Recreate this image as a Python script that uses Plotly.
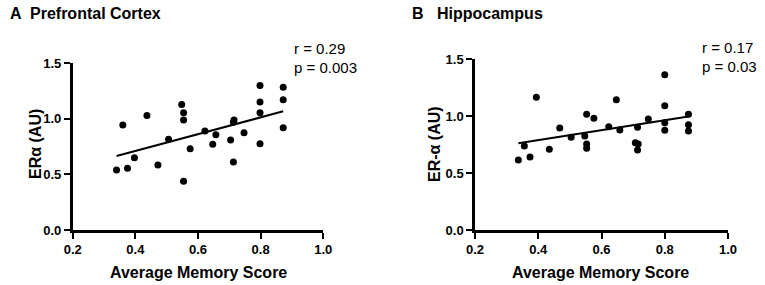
import plotly.graph_objects as go

# Panel A: Prefrontal Cortex
a_x = [0.340, 0.360, 0.375, 0.397, 0.437, 0.472, 0.506, 0.548, 0.554, 0.554, 0.554,
       0.575, 0.622, 0.647, 0.657, 0.704, 0.713, 0.715, 0.713, 0.747,
       0.798, 0.798, 0.798, 0.798, 0.872, 0.872, 0.872]
a_y = [0.54, 0.945, 0.555, 0.65, 1.03, 0.585, 0.816, 1.13, 1.056, 0.99, 0.438,
       0.732, 0.89, 0.771, 0.858, 0.81, 0.97, 0.99, 0.612, 0.876,
       1.30, 1.152, 1.056, 0.777, 1.284, 1.173, 0.921]
a_fit_x = [0.34, 0.872]
a_fit_y = [0.666, 1.068]

# Panel B: Hippocampus
b_x = [0.337, 0.356, 0.374, 0.394, 0.435, 0.468, 0.504, 0.547, 0.553, 0.553, 0.553,
       0.576, 0.623, 0.647, 0.658, 0.707, 0.716, 0.714, 0.714, 0.748,
       0.800, 0.800, 0.800, 0.800, 0.875, 0.875, 0.875]
b_y = [0.615, 0.738, 0.641, 1.166, 0.709, 0.896, 0.815, 0.826, 1.017, 0.756, 0.718,
       0.981, 0.908, 1.145, 0.879, 0.767, 0.755, 0.902, 0.703, 0.975,
       1.365, 1.092, 0.943, 0.876, 1.017, 0.925, 0.870]
b_fit_x = [0.337, 0.875]
b_fit_y = [0.762, 0.998]

x_ticks = [0.2, 0.4, 0.6, 0.8, 1.0]
x_labels = ["0.2", "0.4", "0.6", "0.8", "1.0"]
y_ticks = [0.0, 0.5, 1.0, 1.5]
y_labels = ["0.0", "0.5", "1.0", "1.5"]

FONT = "Liberation Sans, Arial, sans-serif"

W, H = 765, 285

def px(x):
    return x / W

def py(y):
    return 1 - y / H

fig = go.Figure()
mk = dict(color="black", size=7)
fig.add_trace(go.Scatter(x=a_x, y=a_y, mode="markers", marker=mk, xaxis="x", yaxis="y", cliponaxis=False))
fig.add_trace(go.Scatter(x=a_fit_x, y=a_fit_y, mode="lines", line=dict(color="black", width=2), xaxis="x", yaxis="y"))
fig.add_trace(go.Scatter(x=b_x, y=b_y, mode="markers", marker=mk, xaxis="x2", yaxis="y2", cliponaxis=False))
fig.add_trace(go.Scatter(x=b_fit_x, y=b_fit_y, mode="lines", line=dict(color="black", width=2), xaxis="x2", yaxis="y2"))

def xax(domain, anchor):
    return dict(domain=domain, anchor=anchor, range=[0.2, 1.0], tickvals=x_ticks, ticktext=x_labels,
                showline=True, linecolor="black", linewidth=2.5, ticks="outside", ticklen=6, tickwidth=2,
                tickcolor="black", showgrid=False, zeroline=False, automargin=False,
                tickfont=dict(family=FONT, size=13, color="black", weight="bold"))

def yax(domain, anchor):
    return dict(domain=domain, anchor=anchor, range=[0, 1.5], tickvals=y_ticks, ticktext=y_labels,
                showline=True, linecolor="black", linewidth=2.5, ticks="outside", ticklen=6, tickwidth=2,
                tickcolor="black", showgrid=False, zeroline=False, automargin=False,
                tickfont=dict(family=FONT, size=13, color="black", weight="bold"))

fig.update_layout(
    width=W, height=H, margin=dict(l=0, r=0, t=0, b=0),
    paper_bgcolor="white", plot_bgcolor="white", showlegend=False,
    xaxis=xax([px(72.7), px(323.3)], "y"),
    yaxis=yax([py(230), py(63.3)], "x"),
    xaxis2=xax([px(475), px(728)], "y2"),
    yaxis2=yax([py(230), py(59.3)], "x2"),
)

def ann(text, x, y, size, bold=False, xanchor="left", angle=0):
    fig.add_annotation(text=f"<b>{text}</b>" if bold else text, x=px(x), y=py(y),
                       xref="paper", yref="paper", xanchor=xanchor, yanchor="middle",
                       showarrow=False, textangle=angle,
                       font=dict(family=FONT, size=size, color="black"), align="left")

ann("A", 8, 13, 16, True)
ann("Prefrontal Cortex", 28, 13, 16, True)
ann("B", 410, 13, 16, True)
ann("Hippocampus", 435, 13, 16, True)
ann("Average Memory Score", 198, 272, 16, True, "center")
ann("Average Memory Score", 600, 272, 16, True, "center")
ann("ERα (AU)", 35, 144, 16, True, "center", -90)
ann("ER-α (AU)", 434, 144, 16, True, "center", -90)
ann("r = 0.29", 292, 49, 15)
ann("p = 0.003", 292, 68, 15)
ann("r = 0.17", 700, 48, 15)
ann("p = 0.03", 700, 66, 15)

fig.write_html("out.html", config={"displayModeBar": False},
               post_script="document.body.style.margin='0';")
